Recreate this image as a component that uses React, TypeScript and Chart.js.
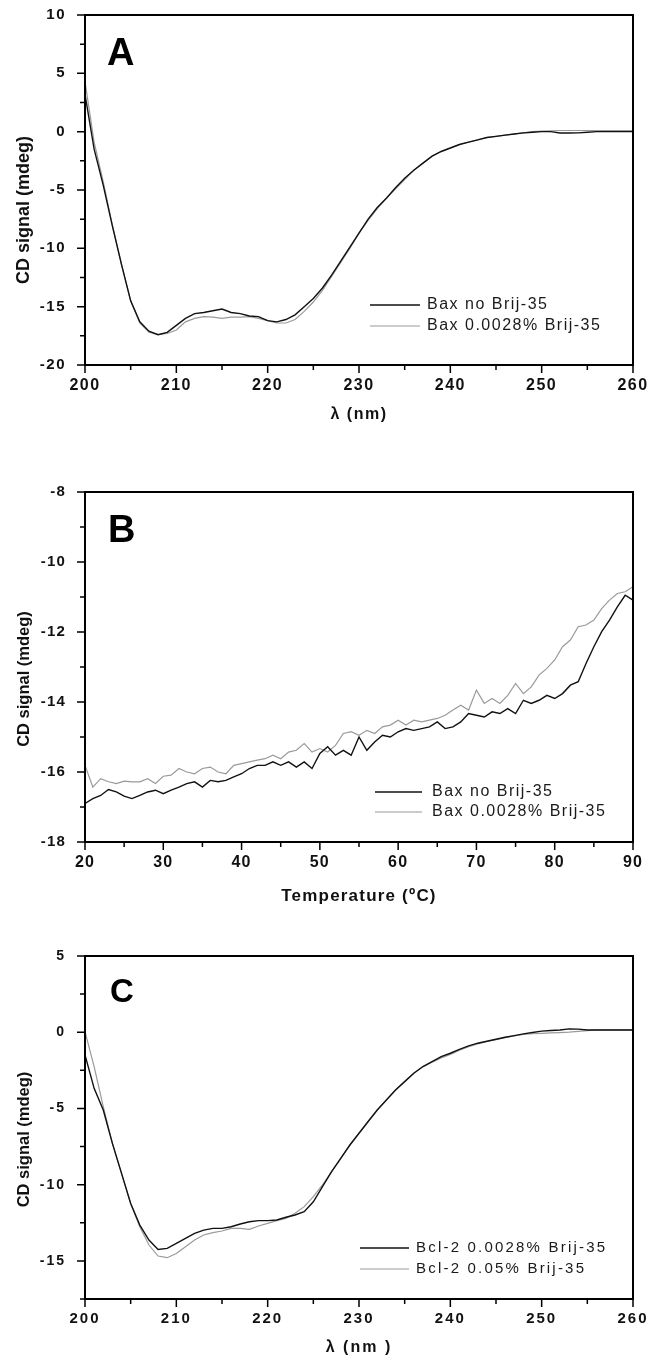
import React, { useEffect, useRef } from "react";
import { Chart, registerables } from "chart.js";

Chart.register(...registerables);

const FAMILY = '"Liberation Sans", Arial, Helvetica, sans-serif';
const BLACK = "#111111";
const GRAY = "#9a9a9a";

// ---------- Panel A : CD spectra of Bax ----------
const wavelengthA = [
  200, 201, 202, 203, 204, 205, 206, 207, 208, 209,
  210, 211, 212, 213, 214, 215, 216, 217, 218, 219,
  220, 221, 222, 223, 224, 225, 226, 227, 228, 229,
  230, 231, 232, 233, 234, 235, 236, 237, 238, 239,
  240, 241, 242, 243, 244, 245, 246, 247, 248, 249,
  250, 251, 252, 253, 254, 255, 256, 257, 258, 259, 260,
];
const baxNoBrijA = [
  3.2, -1.5, -4.6, -8.1, -11.4, -14.5, -16.3, -17.1, -17.4, -17.2,
  -16.6, -16.0, -15.6, -15.5, -15.35, -15.2, -15.5, -15.6, -15.8, -15.85,
  -16.2, -16.3, -16.1, -15.7, -15.0, -14.3, -13.4, -12.3, -11.1, -9.9,
  -8.7, -7.5, -6.5, -5.7, -4.8, -4.0, -3.3, -2.7, -2.1, -1.7,
  -1.4, -1.1, -0.9, -0.7, -0.5, -0.4, -0.3, -0.2, -0.1, -0.05,
  0.0, 0.0, -0.12, -0.12, -0.1, -0.05, 0.0, 0.0, 0.0, 0.0, 0.0,
];
const baxBrijA = [
  4.3, -0.9, -4.3, -8.0, -11.4, -14.5, -16.4, -17.2, -17.4, -17.3,
  -17.0, -16.3, -16.0, -15.85, -15.9, -16.0, -15.9, -15.9, -15.85, -16.0,
  -16.2, -16.4, -16.4, -16.1, -15.4, -14.6, -13.6, -12.4, -11.2, -10.0,
  -8.7, -7.6, -6.6, -5.7, -4.9, -4.1, -3.3, -2.7, -2.1, -1.7,
  -1.4, -1.1, -0.9, -0.7, -0.5, -0.4, -0.3, -0.2, -0.1, 0.0,
  0.05, 0.08, 0.1, 0.1, 0.1, 0.1, 0.1, 0.1, 0.1, 0.1, 0.1,
];
const legendA = ["Bax no Brij-35", "Bax 0.0028% Brij-35"];
const xTicksA = [200, 210, 220, 230, 240, 250, 260];
const yTicksA = [10, 5, 0, -5, -10, -15, -20];

// ---------- Panel B : thermal denaturation of Bax ----------
const temperatureB = [
  20, 21, 22, 23, 24, 25, 26, 27, 28, 29,
  30, 31, 32, 33, 34, 35, 36, 37, 38, 39,
  40, 41, 42, 43, 44, 45, 46, 47, 48, 49,
  50, 51, 52, 53, 54, 55, 56, 57, 58, 59,
  60, 61, 62, 63, 64, 65, 66, 67, 68, 69,
  70, 71, 72, 73, 74, 75, 76, 77, 78, 79,
  80, 81, 82, 83, 84, 85, 86, 87, 88, 89, 90,
];
const baxNoBrijB = [
  -16.9, -16.76, -16.67, -16.5, -16.57, -16.69, -16.76, -16.67, -16.57, -16.52,
  -16.62, -16.52, -16.43, -16.33, -16.28, -16.43, -16.24, -16.28, -16.24, -16.14,
  -16.05, -15.9, -15.81, -15.81, -15.71, -15.81, -15.71, -15.86, -15.71, -15.9,
  -15.47, -15.28, -15.52, -15.38, -15.52, -15.0, -15.38, -15.14, -14.95, -15.0,
  -14.85, -14.76, -14.81, -14.76, -14.71, -14.57, -14.76, -14.71, -14.57, -14.33,
  -14.38, -14.43, -14.28, -14.33, -14.19, -14.33, -13.95, -14.04, -13.95, -13.81,
  -13.9, -13.76, -13.52, -13.42, -12.9, -12.42, -11.99, -11.66, -11.28, -10.95, -11.09,
];
const baxBrijB = [
  -15.81, -16.43, -16.19, -16.28, -16.33, -16.26, -16.28, -16.28, -16.19, -16.33,
  -16.12, -16.09, -15.9, -16.0, -16.05, -15.9, -15.86, -16.0, -16.05, -15.81,
  -15.76, -15.71, -15.66, -15.62, -15.52, -15.62, -15.43, -15.38, -15.19, -15.43,
  -15.33, -15.43, -15.24, -14.9, -14.85, -14.95, -14.81, -14.9, -14.71, -14.66,
  -14.52, -14.66, -14.52, -14.57, -14.52, -14.47, -14.38, -14.23, -14.09, -14.23,
  -13.66, -14.04, -13.9, -14.04, -13.81, -13.47, -13.76, -13.57, -13.23, -13.04,
  -12.8, -12.42, -12.23, -11.85, -11.8, -11.66, -11.33, -11.09, -10.9, -10.85, -10.71,
];
const legendB = ["Bax no Brij-35", "Bax 0.0028% Brij-35"];
const xTicksB = [20, 30, 40, 50, 60, 70, 80, 90];
const yTicksB = [-8, -10, -12, -14, -16, -18];

// ---------- Panel C : CD spectra of Bcl-2 ----------
const wavelengthC = [
  200, 201, 202, 203, 204, 205, 206, 207, 208, 209,
  210, 211, 212, 213, 214, 215, 216, 217, 218, 219,
  220, 221, 222, 223, 224, 225, 226, 227, 228, 229,
  230, 231, 232, 233, 234, 235, 236, 237, 238, 239,
  240, 241, 242, 243, 244, 245, 246, 247, 248, 249,
  250, 251, 252, 253, 254, 255, 256, 257, 258, 259, 260,
];
const bcl2LowBrijC = [
  -1.49, -3.68, -5.1, -7.29, -9.26, -11.23, -12.65, -13.63, -14.25, -14.18,
  -13.85, -13.52, -13.19, -12.98, -12.87, -12.87, -12.76, -12.58, -12.43, -12.36,
  -12.36, -12.32, -12.14, -11.99, -11.77, -11.12, -10.13, -9.15, -8.27, -7.4,
  -6.63, -5.86, -5.1, -4.44, -3.79, -3.24, -2.69, -2.25, -1.93, -1.6,
  -1.38, -1.12, -0.9, -0.72, -0.59, -0.46, -0.33, -0.22, -0.11, -0.02,
  0.07, 0.11, 0.15, 0.22, 0.2, 0.15, 0.15, 0.15, 0.15, 0.15, 0.15,
];
const bcl2HighBrijC = [
  0.04, -2.25, -4.88, -7.29, -9.26, -11.23, -12.76, -13.96, -14.68, -14.79,
  -14.51, -14.07, -13.63, -13.3, -13.15, -13.04, -12.87, -12.87, -12.93, -12.71,
  -12.54, -12.36, -12.21, -11.88, -11.44, -10.79, -10.02, -9.15, -8.27, -7.4,
  -6.63, -5.86, -5.1, -4.44, -3.79, -3.24, -2.69, -2.27, -1.96, -1.68,
  -1.45, -1.18, -0.95, -0.76, -0.61, -0.48, -0.35, -0.24, -0.15, -0.1,
  -0.07, -0.04, -0.02, 0.0, 0.05, 0.1, 0.15, 0.15, 0.15, 0.15, 0.15,
];
const legendC = ["Bcl-2 0.0028% Brij-35", "Bcl-2 0.05% Brij-35"];
const xTicksC = [200, 210, 220, 230, 240, 250, 260];
const yTicksC = [5, 0, -5, -10, -15];

type PanelCfg = {
  top: number;
  height: number;
  areaTop: number;
  areaBottom: number;
  areaLeft: number;
  areaRight: number;
  x: number[];
  s1: number[];
  s2: number[];
  names: string[];
  xMin: number;
  xMax: number;
  yMin: number;
  yMax: number;
  xTicks: number[];
  yTicks: number[];
  letter: string;
  letterSize: number;
  letterX: number;
  letterY: number;
  yTitle: string;
  yTitleSize: number;
  yTitleX: number;
  yTitleY: number;
  xTitle: string;
  xTitleSize: number;
  xTitlePad: number;
  xTickSize: number;
  xTickPad: number;
  yTickSize: number;
  yTickPad: number;
  spacing: number;
  legX1: number;
  legX2: number;
  legTextX: number;
  legRows: number[];
  legSize: number;
  legSpacing: number;
};

const panels: PanelCfg[] = [
  {
    top: 0, height: 430, areaTop: 15, areaBottom: 365, areaLeft: 85, areaRight: 633,
    x: wavelengthA, s1: baxNoBrijA, s2: baxBrijA, names: legendA,
    xMin: 200, xMax: 260, yMin: -20, yMax: 10, xTicks: xTicksA, yTicks: yTicksA,
    letter: "A", letterSize: 38, letterX: 107, letterY: 65,
    yTitle: "CD signal (mdeg)", yTitleSize: 18, yTitleX: 24, yTitleY: 210,
    xTitle: "λ (nm)", xTitleSize: 16, xTitlePad: 7,
    xTickSize: 16, xTickPad: 11, yTickSize: 15, yTickPad: 19, spacing: 1.5,
    legX1: 370, legX2: 420, legTextX: 427, legRows: [305, 326], legSize: 16, legSpacing: 1.5,
  },
  {
    top: 430, height: 480, areaTop: 62, areaBottom: 412, areaLeft: 85, areaRight: 633,
    x: temperatureB, s1: baxNoBrijB, s2: baxBrijB, names: legendB,
    xMin: 20, xMax: 90, yMin: -18, yMax: -8, xTicks: xTicksB, yTicks: yTicksB,
    letter: "B", letterSize: 38, letterX: 108, letterY: 112,
    yTitle: "CD signal (mdeg)", yTitleSize: 16.5, yTitleX: 24, yTitleY: 249,
    xTitle: "Temperature (ºC)", xTitleSize: 17, xTitlePad: 5,
    xTickSize: 16, xTickPad: 11, yTickSize: 15, yTickPad: 19, spacing: 1.2,
    legX1: 375, legX2: 422, legTextX: 432, legRows: [362, 382], legSize: 16, legSpacing: 1.5,
  },
  {
    top: 910, height: 447, areaTop: 46, areaBottom: 389, areaLeft: 85, areaRight: 633,
    x: wavelengthC, s1: bcl2LowBrijC, s2: bcl2HighBrijC, names: legendC,
    xMin: 200, xMax: 260, yMin: -17.5, yMax: 5, xTicks: xTicksC, yTicks: yTicksC,
    letter: "C", letterSize: 33, letterX: 110, letterY: 92,
    yTitle: "CD signal (mdeg)", yTitleSize: 16.5, yTitleX: 24, yTitleY: 229.5,
    xTitle: "λ (nm )", xTitleSize: 16, xTitlePad: 1,
    xTickSize: 15, xTickPad: 11, yTickSize: 14, yTickPad: 19, spacing: 2,
    legX1: 360, legX2: 409, legTextX: 416, legRows: [338, 359], legSize: 15, legSpacing: 2.2,
  },
];

function minorValues(major: number[], min: number, max: number): number[] {
  const sorted = [...major].sort((p, q) => p - q);
  const step = sorted[1] - sorted[0];
  const out: number[] = [];
  sorted.forEach((v, i) => {
    const lo = v - step / 2;
    if (i === 0 && lo >= min - 1e-9) out.push(lo);
    const hi = v + step / 2;
    if (hi <= max + 1e-9) out.push(hi);
  });
  return out;
}

function Panel({ cfg }: { cfg: PanelCfg }) {
  const ref = useRef<HTMLCanvasElement | null>(null);

  useEffect(() => {
    const canvas = ref.current;
    if (!canvas) return;

    const overlay = {
      id: "overlay" + cfg.letter,
      beforeDraw(chart: any) {
        chart.ctx.letterSpacing = cfg.spacing + "px";
      },
      afterDraw(chart: any) {
        const ctx = chart.ctx as any;
        const a = chart.chartArea;
        const xs = chart.scales.x;
        const ys = chart.scales.y;
        ctx.save();
        ctx.letterSpacing = "0px";
        ctx.strokeStyle = "#000";
        ctx.lineWidth = 1.5;
        ctx.beginPath();
        const xMaj = xs.ticks.map((t: any) => t.value);
        const yMaj = ys.ticks.map((t: any) => t.value);
        xMaj.forEach((v: number) => {
          const p = xs.getPixelForValue(v);
          ctx.moveTo(p, a.bottom);
          ctx.lineTo(p, a.bottom + 8);
        });
        minorValues(xMaj, cfg.xMin, cfg.xMax).forEach((v) => {
          const p = xs.getPixelForValue(v);
          ctx.moveTo(p, a.bottom);
          ctx.lineTo(p, a.bottom + 5);
        });
        yMaj.forEach((v: number) => {
          const p = ys.getPixelForValue(v);
          ctx.moveTo(a.left - 8, p);
          ctx.lineTo(a.left, p);
        });
        minorValues(yMaj, cfg.yMin, cfg.yMax).forEach((v) => {
          const p = ys.getPixelForValue(v);
          ctx.moveTo(a.left - 5, p);
          ctx.lineTo(a.left, p);
        });
        ctx.stroke();
        ctx.lineWidth = 2;
        ctx.strokeRect(a.left, a.top, a.right - a.left, a.bottom - a.top);

        // panel letter
        ctx.fillStyle = "#000";
        ctx.font = `bold ${cfg.letterSize}px ${FAMILY}`;
        ctx.textAlign = "left";
        ctx.textBaseline = "alphabetic";
        ctx.fillText(cfg.letter, cfg.letterX, cfg.letterY);

        // y axis title
        ctx.save();
        ctx.translate(cfg.yTitleX, cfg.yTitleY);
        ctx.rotate(-Math.PI / 2);
        ctx.font = `bold ${cfg.yTitleSize}px ${FAMILY}`;
        ctx.textAlign = "center";
        ctx.textBaseline = "middle";
        ctx.fillStyle = "#111";
        ctx.fillText(cfg.yTitle, 0, 0);
        ctx.restore();

        // legend
        const colors = [BLACK, GRAY];
        const widths = [1.4, 1.2];
        ctx.letterSpacing = cfg.legSpacing + "px";
        ctx.font = `${cfg.legSize}px ${FAMILY}`;
        ctx.textAlign = "left";
        ctx.textBaseline = "middle";
        cfg.names.forEach((name, i) => {
          const yy = cfg.legRows[i];
          ctx.strokeStyle = colors[i];
          ctx.lineWidth = widths[i];
          ctx.beginPath();
          ctx.moveTo(cfg.legX1, yy);
          ctx.lineTo(cfg.legX2, yy);
          ctx.stroke();
          ctx.fillStyle = "#1a1a1a";
          ctx.fillText(name, cfg.legTextX, yy);
        });
        ctx.restore();
      },
    };

    const chart = new Chart(canvas, {
      type: "line",
      data: {
        datasets: [
          {
            label: cfg.names[0],
            data: cfg.x.map((v, i) => ({ x: v, y: cfg.s1[i] })),
            borderColor: BLACK,
            borderWidth: 1.4,
            pointRadius: 0,
            tension: 0,
            fill: false,
          },
          {
            label: cfg.names[1],
            data: cfg.x.map((v, i) => ({ x: v, y: cfg.s2[i] })),
            borderColor: GRAY,
            borderWidth: 1.2,
            pointRadius: 0,
            tension: 0,
            fill: false,
          },
        ],
      },
      options: {
        responsive: false,
        animation: false,
        devicePixelRatio: 1,
        events: [],
        layout: {
          padding: { left: 0, right: 651 - cfg.areaRight, top: cfg.areaTop, bottom: 0 },
        },
        plugins: {
          legend: { display: false },
          tooltip: { enabled: false },
        },
        scales: {
          x: {
            type: "linear",
            min: cfg.xMin,
            max: cfg.xMax,
            afterBuildTicks: (s: any) => {
              s.ticks = cfg.xTicks.map((v) => ({ value: v }));
            },
            afterFit: (s: any) => {
              s.height = cfg.height - cfg.areaBottom;
              s.paddingLeft = 0;
              s.paddingRight = 0;
            },
            grid: { display: false, drawTicks: false },
            border: { display: false },
            ticks: {
              color: "#111",
              font: { family: FAMILY, size: cfg.xTickSize, weight: "bold" },
              padding: cfg.xTickPad,
              maxRotation: 0,
              autoSkip: false,
            },
            title: {
              display: true,
              text: cfg.xTitle,
              color: "#111",
              font: { family: FAMILY, size: cfg.xTitleSize, weight: "bold", lineHeight: 1 },
              padding: { top: 0, bottom: cfg.xTitlePad },
            },
          },
          y: {
            type: "linear",
            min: cfg.yMin,
            max: cfg.yMax,
            afterBuildTicks: (s: any) => {
              s.ticks = cfg.yTicks.map((v) => ({ value: v }));
            },
            afterFit: (s: any) => {
              s.width = cfg.areaLeft;
              s.paddingTop = 0;
              s.paddingBottom = 0;
            },
            grid: { display: false, drawTicks: false },
            border: { display: false },
            ticks: {
              color: "#111",
              font: { family: FAMILY, size: cfg.yTickSize, weight: "bold" },
              padding: cfg.yTickPad,
              autoSkip: false,
            },
          },
        },
      } as any,
      plugins: [overlay],
    });

    return () => chart.destroy();
  }, [cfg]);

  return (
    <canvas
      ref={ref}
      width={651}
      height={cfg.height}
      style={{ position: "absolute", left: 0, top: cfg.top, width: 651, height: cfg.height }}
    />
  );
}

export default function App() {
  return (
    <div
      style={{
        position: "absolute",
        left: 0,
        top: 0,
        width: 651,
        height: 1357,
        background: "#ffffff",
        overflow: "hidden",
      }}
    >
      {panels.map((p) => (
        <Panel key={p.letter} cfg={p} />
      ))}
    </div>
  );
}
